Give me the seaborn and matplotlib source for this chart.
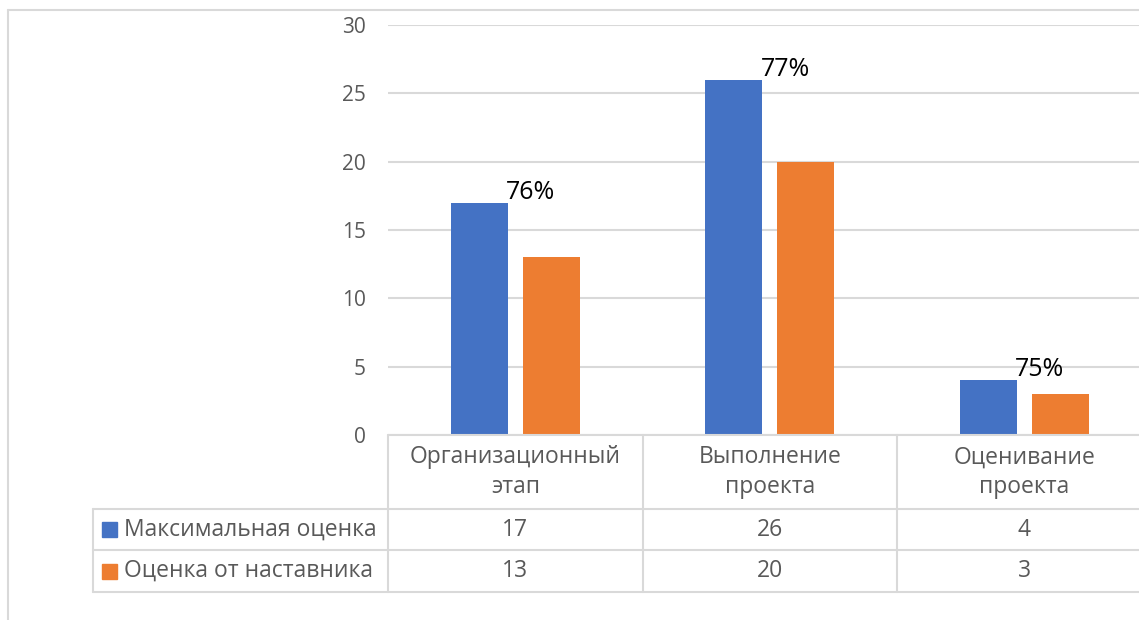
import matplotlib
matplotlib.use("Agg")
import matplotlib.pyplot as plt
import matplotlib.transforms as mtransforms
import seaborn as sns
import pandas as pd

# ---- data ----
categories = ["Организационный\nэтап", "Выполнение\nпроекта", "Оценивание\nпроекта"]
series_names = ["Максимальная оценка", "Оценка от наставника"]
max_scores = [17, 26, 4]
mentor_scores = [13, 20, 3]
pct_labels = ["76%", "77%", "75%"]
y_ticks = [0, 5, 10, 15, 20, 25, 30]

BLUE = "#4472C4"
ORANGE = "#ED7D31"
GREY_TXT = "#595959"
GRID = "#D9D9D9"

df = pd.DataFrame({
    "stage": categories * 2,
    "series": [series_names[0]] * 3 + [series_names[1]] * 3,
    "value": max_scores + mentor_scores,
})

sns.set_theme(style="white")
plt.rcParams["font.family"] = ["Open Sans", "DejaVu Sans"]

W, H = 1139, 620
fig = plt.figure(figsize=(W / 100, H / 100), dpi=100)

def fx(px):
    return px / W

def fy(py):
    return 1 - py / H

ax_left, ax_right, ax_top, ax_bottom = 388, 1151.5, 25, 435
ax = fig.add_axes([fx(ax_left), fy(ax_bottom), fx(ax_right - ax_left), (ax_bottom - ax_top) / H])

sns.barplot(data=df, x="stage", y="value", hue="series", order=categories,
            hue_order=series_names, palette=[BLUE, ORANGE], saturation=1,
            width=0.566, gap=0.21, linewidth=0, legend=False, ax=ax)

ax.set_xlim(-0.5, 2.5)
ax.set_ylim(0, 30)
ax.set_yticks(y_ticks)
ax.set_yticklabels([str(t) for t in y_ticks], fontsize=15, color=GREY_TXT)
ax.tick_params(axis="y", length=0, pad=16)
ax.set_xticks([])
ax.set_xlabel("")
ax.set_ylabel("")
for s in ax.spines.values():
    s.set_visible(False)
ax.yaxis.grid(True, color=GRID, linewidth=1.5)
ax.set_axisbelow(True)
ax.axhline(0, color=GRID, linewidth=1.5, clip_on=False)

# data labels (percent) near top of the blue bars
slot = 0.566 / 2
for i, (v, lab) in enumerate(zip(max_scores, pct_labels)):
    ax.annotate(lab, xy=(i - slot / 2 + 0.105, v), xytext=(0, 4), textcoords="offset pixels",
                ha="left", va="baseline", fontsize=18, color="black")

# ---- data table below the plot ----
bt = mtransforms.blended_transform_factory(ax.transData, fig.transFigure)
ft = fig.transFigure
lw = 1.5
TFS = 16.5

row_lines = [509, 550, 592]
tab_left = 93
for y in row_lines:
    fig.add_artist(plt.Line2D([fx(tab_left), 1.0], [fy(y), fy(y)], color=GRID, lw=lw, transform=ft))
for xb in [-0.5, 0.5, 1.5]:
    fig.add_artist(plt.Line2D([xb, xb], [fy(435), fy(592)], color=GRID, lw=lw, transform=bt))
fig.add_artist(plt.Line2D([fx(tab_left), fx(tab_left)], [fy(509), fy(592)], color=GRID, lw=lw, transform=ft))

# category header text
for i, c in enumerate(categories):
    t = fig.text(0, fy(472), c, transform=bt, ha="center", va="center", fontsize=TFS,
                 color=GREY_TXT, linespacing=1.3)
    t.set_x(i)

# series rows
row_centers = [529.5, 571]
row_values = [max_scores, mentor_scores]
colors = [BLUE, ORANGE]
for r, (name, vals, col) in enumerate(zip(series_names, row_values, colors)):
    yc = row_centers[r]
    fig.add_artist(plt.Rectangle((fx(102), fy(yc + 7.5)), fx(15), 15 / H, color=col, transform=ft))
    fig.text(fx(124), fy(yc), name, ha="left", va="center", fontsize=TFS, color=GREY_TXT)
    for i, v in enumerate(vals):
        t = fig.text(0, fy(yc), str(v), transform=bt, ha="center", va="center",
                     fontsize=TFS, color=GREY_TXT)
        t.set_x(i)

# chart area border (left and top visible)
fig.add_artist(plt.Line2D([fx(8), fx(8)], [fy(10), 0], color=GRID, lw=lw, transform=ft))
fig.add_artist(plt.Line2D([fx(8), 1.0], [fy(10), fy(10)], color=GRID, lw=lw, transform=ft))

fig.savefig("out.png", dpi=100)
